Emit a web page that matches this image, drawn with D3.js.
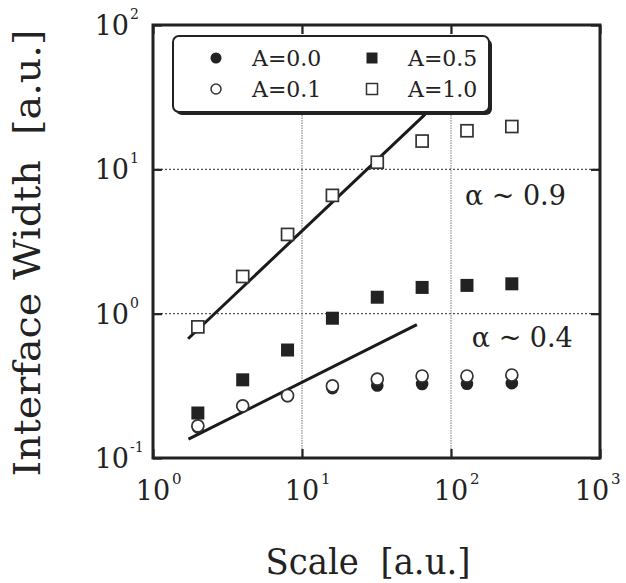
<!DOCTYPE html>
<html>
<head>
<meta charset="utf-8">
<script src="https://cdn.jsdelivr.net/npm/d3@7"></script>
<style>
body { margin: 0; background: #fff; }
text { font-family: "DejaVu Serif", serif; fill: #222; }
</style>
</head>
<body>
<div id="chart"></div>
<script>

// values
const scales = [2, 4, 8, 16, 32, 64, 128, 256];
const widthA00 = [0.163, 0.228, 0.268, 0.305, 0.318, 0.326, 0.327, 0.33];
const widthA01 = [0.167, 0.23, 0.271, 0.316, 0.352, 0.37, 0.37, 0.376];
const widthA05 = [0.205, 0.348, 0.56, 0.93, 1.30, 1.52, 1.57, 1.61];
const widthA10 = [0.81, 1.81, 3.54, 6.6, 11.2, 15.7, 18.5, 19.8];

const fitSteep = [[1.72, 0.67], [67, 24]];
const fitShallow = [[1.73, 0.135], [59, 0.84]];

const xTicks = [1, 10, 100, 1000];
const yTicks = [0.1, 1, 10, 100];
const xGrid = [10, 100];
const yGrid = [1, 10];

const legendLabels = ["A=0.0", "A=0.1", "A=0.5", "A=1.0"];
const slopeNotes = [
    {text: "\u03b1 ~ 0.9", x: 124, y: 5.7},
    {text: "\u03b1 ~ 0.4", x: 138, y: 0.59}
];

let margin = {top: 25, right: 26, bottom: 125, left: 153},
    width = 626 - margin.left - margin.right,
    height = 583 - margin.top - margin.bottom;

let root = d3.select("#chart")
             .append("svg")
             .attr("width", 626)
             .attr("height", 583);

let svg = root.append("g")
              .attr("transform", "translate(" + margin.left + "," + margin.top + ")");

let x = d3.scaleLog()
          .domain([1, 1000])
          .range([0, width]);

let y = d3.scaleLog()
          .domain([0.1, 100])
          .range([height, 0]);

// grid
svg.append("g")
    .selectAll("line")
    .data(yGrid)
    .enter()
    .append("line")
    .attr("x1", 0)
    .attr("x2", width)
    .attr("y1", function(d) { return y(d) })
    .attr("y2", function(d) { return y(d) })
    .attr("stroke", "#555")
    .attr("stroke-width", 1.3)
    .attr("stroke-dasharray", "2,2");

svg.append("g")
    .selectAll("line")
    .data(xGrid)
    .enter()
    .append("line")
    .attr("x1", function(d) { return x(d) })
    .attr("x2", function(d) { return x(d) })
    .attr("y1", 0)
    .attr("y2", height)
    .attr("stroke", "#777")
    .attr("stroke-width", 1)
    .attr("stroke-dasharray", "1.5,1");

// inward ticks on all four sides
function ticks(g) {
    g.select(".domain").remove();
    g.selectAll(".tick line").attr("stroke", "#222").attr("stroke-width", 2.2);
}

svg.append("g")
    .attr("transform", "translate(0," + height + ")")
    .call(d3.axisBottom(x).tickValues(xTicks).tickSize(-9).tickFormat(""))
    .call(ticks);

svg.append("g")
    .call(d3.axisTop(x).tickValues(xTicks).tickSize(-9).tickFormat(""))
    .call(ticks);

svg.append("g")
    .call(d3.axisLeft(y).tickValues(yTicks).tickSize(-9).tickFormat(""))
    .call(ticks);

svg.append("g")
    .attr("transform", "translate(" + width + ",0)")
    .call(d3.axisRight(y).tickValues(yTicks).tickSize(-9).tickFormat(""))
    .call(ticks);

// tick labels, 10 with superscript exponent (last one nudged in so it fits)
function nudge(d) { return d === 1000 ? -8 : 0 }

let xLab = svg.append("g").selectAll("g").data(xTicks).enter().append("g");
xLab.append("text")
    .attr("x", function(d) { return x(d) + nudge(d) })
    .attr("y", height + 42)
    .attr("text-anchor", "middle")
    .style("font-size", "27px")
    .text("10");
xLab.append("text")
    .attr("x", function(d) { return x(d) + nudge(d) + 19 })
    .attr("y", height + 26)
    .style("font-size", "15px")
    .text(function(d) { return Math.round(Math.log10(d)) });

let yLab = svg.append("g").selectAll("g").data(yTicks).enter().append("g");
yLab.append("text")
    .attr("x", -24)
    .attr("y", function(d) { return y(d) + 10 })
    .attr("text-anchor", "end")
    .style("font-size", "27px")
    .text("10");
yLab.append("text")
    .attr("x", -23)
    .attr("y", function(d) { return y(d) - 6 })
    .style("font-size", "14px")
    .text(function(d) { return Math.round(Math.log10(d)) });

// fit lines
let line = d3.line()
             .x(function(d) { return x(d[0]) })
             .y(function(d) { return y(d[1]) });

[fitSteep, fitShallow].forEach(function(f) {
    svg.append("path")
        .datum(f)
        .attr("fill", "none")
        .attr("stroke", "#1a1a1a")
        .attr("stroke-width", 3)
        .attr("d", line);
});

// markers
svg.append("g")
    .selectAll("circle")
    .data(scales)
    .enter()
    .append("circle")
    .attr("cx", function(d) { return x(d) })
    .attr("cy", function(d, i) { return y(widthA00[i]) })
    .attr("r", 6.3)
    .attr("fill", "#222");

svg.append("g")
    .selectAll("circle")
    .data(scales)
    .enter()
    .append("circle")
    .attr("cx", function(d) { return x(d) })
    .attr("cy", function(d, i) { return y(widthA01[i]) })
    .attr("r", 6)
    .attr("fill", "#fff")
    .attr("stroke", "#333")
    .attr("stroke-width", 1.7);

svg.append("g")
    .selectAll("rect")
    .data(scales)
    .enter()
    .append("rect")
    .attr("x", function(d) { return x(d) - 6.5 })
    .attr("y", function(d, i) { return y(widthA05[i]) - 6.5 })
    .attr("width", 13)
    .attr("height", 13)
    .attr("fill", "#222");

svg.append("g")
    .selectAll("rect")
    .data(scales)
    .enter()
    .append("rect")
    .attr("x", function(d) { return x(d) - 6 })
    .attr("y", function(d, i) { return y(widthA10[i]) - 6 })
    .attr("width", 12)
    .attr("height", 12)
    .attr("fill", "#fff")
    .attr("stroke", "#333")
    .attr("stroke-width", 1.7);

// frame
svg.append("rect")
    .attr("width", width)
    .attr("height", height)
    .attr("fill", "none")
    .attr("stroke", "#222")
    .attr("stroke-width", 3);

// slope notes
svg.selectAll(".note")
    .data(slopeNotes)
    .enter()
    .append("text")
    .attr("class", "note")
    .attr("x", function(d) { return x(d.x) })
    .attr("y", function(d) { return y(d.y) })
    .style("font-size", "27px")
    .text(function(d) { return d.text });

// legend with drop shadow
let legend = root.append("g").attr("transform", "translate(173,36)");

legend.append("rect")
    .attr("x", 3).attr("y", 3)
    .attr("width", 316).attr("height", 76)
    .attr("rx", 6)
    .attr("fill", "#222");

legend.append("rect")
    .attr("width", 316).attr("height", 76)
    .attr("rx", 6)
    .attr("fill", "#fff")
    .attr("stroke", "#222")
    .attr("stroke-width", 2);

let cols = [43, 199], rows = [22, 53];
legend.append("circle").attr("cx", cols[0]).attr("cy", rows[0]).attr("r", 5.5).attr("fill", "#222");
legend.append("circle").attr("cx", cols[0]).attr("cy", rows[1]).attr("r", 5).attr("fill", "#fff")
    .attr("stroke", "#333").attr("stroke-width", 1.5);
legend.append("rect").attr("x", cols[1] - 5.5).attr("y", rows[0] - 5.5).attr("width", 11).attr("height", 11)
    .attr("fill", "#222");
legend.append("rect").attr("x", cols[1] - 5.5).attr("y", rows[1] - 5.5).attr("width", 11).attr("height", 11)
    .attr("fill", "#fff").attr("stroke", "#333").attr("stroke-width", 1.5);

legend.selectAll(".lab")
    .data(legendLabels)
    .enter()
    .append("text")
    .attr("class", "lab")
    .attr("x", function(d, i) { return i < 2 ? 79 : 235 })
    .attr("y", function(d, i) { return rows[i % 2] + 8 })
    .style("font-size", "22px")
    .text(function(d) { return d });

// axis titles
root.append("text")
    .attr("x", 368)
    .attr("y", 574)
    .attr("text-anchor", "middle")
    .attr("textLength", 205)
    .attr("lengthAdjust", "spacingAndGlyphs")
    .style("font-size", "35px")
    .text("Scale\u00a0\u00a0[a.u.]");

root.append("text")
    .attr("transform", "translate(40,253) rotate(-90)")
    .attr("text-anchor", "middle")
    .attr("textLength", 447)
    .attr("lengthAdjust", "spacingAndGlyphs")
    .style("font-size", "37px")
    .text("Interface Width\u00a0\u00a0[a.u.]");

</script>
</body>
</html>
